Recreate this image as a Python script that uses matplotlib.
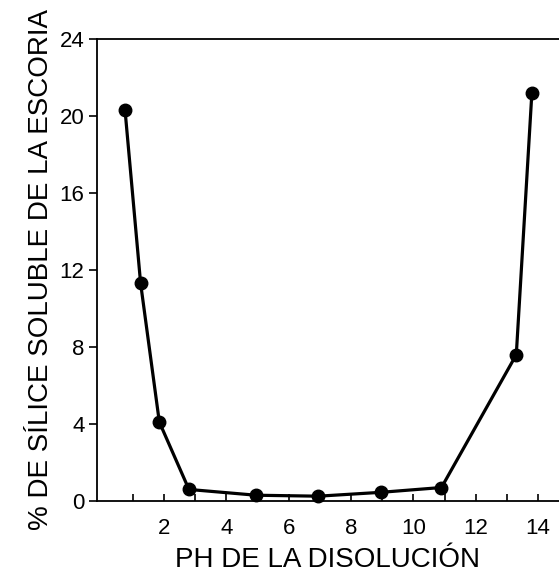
import matplotlib
matplotlib.use("Agg")
import matplotlib.pyplot as plt

# pH de la disolucion vs % de silice soluble
ph     = [0.75, 1.25, 1.85, 2.8, 4.95, 6.95, 8.95, 10.9, 13.3, 13.8]
silice = [20.3, 11.3, 4.1, 0.6, 0.3, 0.25, 0.45, 0.7, 7.6, 21.2]

x_ticks = [2, 4, 6, 8, 10, 12, 14]
x_minor = [1, 3, 5, 7, 9, 11, 13]
y_ticks = [0, 4, 8, 12, 16, 20, 24]

plt.rcParams["font.family"] = ["Liberation Sans", "DejaVu Sans"]

fig = plt.figure(figsize=(5.59, 5.75), dpi=100)
ax = fig.add_axes([0.1735, 0.1287, 0.8265, 0.8035])

ax.plot(ph, silice, color="black", lw=2.3, marker="o", ms=9, clip_on=False)

ax.set_xlim(-0.15, 14.67)
ax.set_ylim(0, 24)
ax.set_xticks(x_ticks)
ax.set_xticks(x_minor, minor=True)
ax.set_yticks(y_ticks)

ax.tick_params(axis="x", which="both", direction="in", length=5, width=1.2,
               labelsize=16, pad=12)
ax.tick_params(axis="y", direction="out", length=6, width=1.2,
               labelsize=16, pad=3)

ax.spines["right"].set_visible(False)
for s in ["left", "bottom", "top"]:
    ax.spines[s].set_linewidth(1.3)

ax.set_xlabel("PH DE LA DISOLUCIÓN", fontsize=20, labelpad=6)
ax.set_ylabel("% DE SÍLICE SOLUBLE DE LA ESCORIA", fontsize=20, labelpad=4)

fig.savefig("out.png", dpi=100)
